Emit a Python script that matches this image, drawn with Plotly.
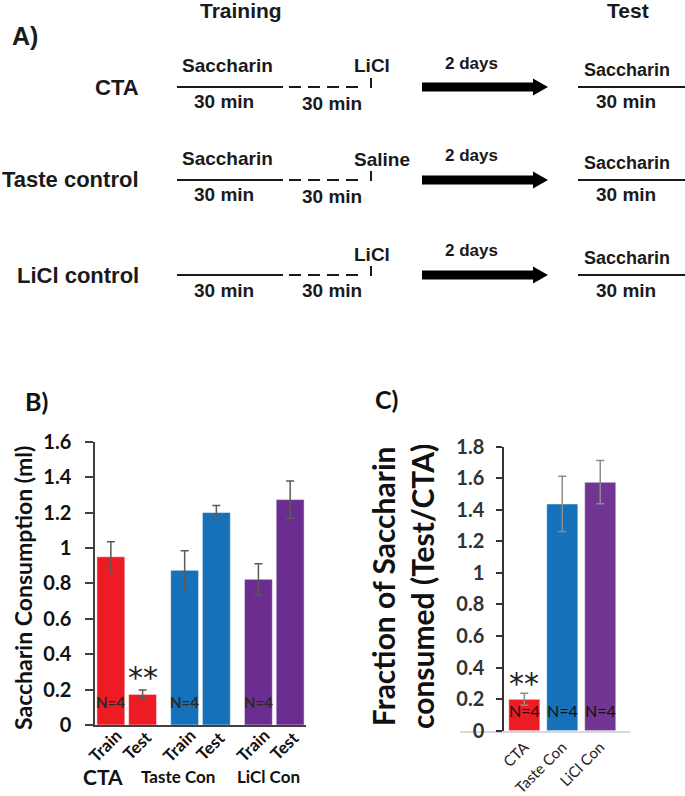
import plotly.graph_objects as go

W, H = 685, 796

# ---------------- data ----------------
groups = ["CTA", "Taste Con", "LiCl Con"]
phases = ["Train", "Test"]
train_ml = [0.95, 0.874, 0.823]
train_err = [0.085, 0.11, 0.088]
test_ml = [0.173, 1.2, 1.273]
test_err = [0.025, 0.04, 0.105]
fraction = [0.199, 1.437, 1.575]
fraction_err = [0.038, 0.175, 0.137]
n_labels = ["N=4", "N=4", "N=4"]
bar_colors = ["#ED1C24", "#1572BA", "#6C2D90"]
frac_colors = ["#ED1C24", "#1572BA", "#733594"]

# schematic (panel A) text
rows = ["CTA", "Taste control", "LiCl control"]
pre_labels = ["Saccharin", "Saccharin", ""]
injections = ["LiCl", "Saline", "LiCl"]
interval = "2 days"
duration = "30 min"
test_drink = "Saccharin"

FONT_A = "Liberation Sans, Arial, sans-serif"
FONT_B = "Lato, Open Sans, sans-serif"
TXT = "#1a1a1a"


def px(x):
    return x / W


def py(y):
    return 1 - y / H


fig = go.Figure()

# ---------------- panel B ----------------
fig.add_trace(go.Bar(
    x=groups, y=train_ml, name="Train",
    marker=dict(color=bar_colors, line=dict(color="rgba(255,255,255,0.5)", width=1)),
    error_y=dict(type="data", array=train_err, color="#5a5a5a", thickness=1.5, width=4),
    xaxis="x", yaxis="y", showlegend=False,
))
fig.add_trace(go.Bar(
    x=groups, y=test_ml, name="Test",
    marker=dict(color=bar_colors, line=dict(color="rgba(255,255,255,0.5)", width=1)),
    error_y=dict(type="data", array=test_err, color="#5a5a5a", thickness=1.5, width=4),
    xaxis="x", yaxis="y", showlegend=False,
))

# ---------------- panel C ----------------
fig.add_trace(go.Bar(
    x=groups, y=fraction, width=0.82,
    marker=dict(color=frac_colors, line=dict(color="rgba(255,255,255,0.5)", width=1)),
    error_y=dict(type="data", array=fraction_err, color="#8c8c8c", thickness=1.5, width=4),
    xaxis="x2", yaxis="y2", showlegend=False,
))

annotations = []
shapes = []

# B annotations: phase tick labels, N labels, stars, group labels
slot = 0.43
for i, g in enumerate(groups):
    for j, ph in enumerate(phases):
        xpos = i + (j - 0.5) * slot
        annotations.append(dict(
            x=xpos, y=0, xref="x", yref="y", text=ph, textangle=-45,
            showarrow=False, xanchor="center", yanchor="middle",
            xshift=-6, yshift=-20,
            font=dict(family=FONT_B, size=17, color="#111", weight="bold")))
    annotations.append(dict(
        x=i - slot / 2, y=0.13, xref="x", yref="y", text=n_labels[i],
        showarrow=False, font=dict(family=FONT_B, size=15, color="#2a2a2a", weight="bold")))
group_shift = [-24, -23, -6]
group_size = [21, 17, 17]
for i, g in enumerate(groups):
    annotations.append(dict(
        x=i, y=py(776), xref="x", yref="paper", text=g, showarrow=False,
        xanchor="center", yanchor="middle", xshift=group_shift[i],
        font=dict(family=FONT_B, size=group_size[i], color="#111", weight="bold")))
annotations.append(dict(
    x=slot / 2, y=0.27, xref="x", yref="y", text="**", showarrow=False,
    font=dict(family="DejaVu Sans, sans-serif", size=30, color="#222")))

# C annotations
for i, g in enumerate(groups):
    annotations.append(dict(
        x=i, y=0.13, xref="x2", yref="y2", text=n_labels[i], showarrow=False,
        font=dict(family=FONT_B, size=16, color="#111")))
annotations.append(dict(
    x=0, y=0.30, xref="x2", yref="y2", text="**", showarrow=False,
    font=dict(family="DejaVu Sans, sans-serif", size=30, color="#222")))

# axis titles
annotations.append(dict(
    x=px(23), y=py(588), xref="paper", yref="paper", text="Saccharin Consumption (ml)",
    textangle=-90, showarrow=False, xanchor="center", yanchor="middle",
    font=dict(family=FONT_B, size=23, color="#111", weight="bold")))
annotations.append(dict(
    x=px(402), y=py(587), xref="paper", yref="paper",
    text="Fraction of Saccharin<br>consumed (Test/CTA)",
    textangle=-90, showarrow=False, xanchor="center", yanchor="middle",
    font=dict(family=FONT_B, size=30, color="#111", weight="bold")))

# panel letters
annotations.append(dict(x=px(23), y=py(401), xref="paper", yref="paper", text="B)",
                        showarrow=False, font=dict(family=FONT_B, size=25, color="#111", weight="bold")))
annotations.append(dict(x=px(387), y=py(399), xref="paper", yref="paper", text="C)",
                        showarrow=False, font=dict(family=FONT_B, size=25, color="#111", weight="bold")))

# ---------------- panel A (schematic) ----------------
def txt(x, y, s, size, anchor="center", weight="bold"):
    annotations.append(dict(x=px(x), y=py(y), xref="paper", yref="paper", text=s,
                            showarrow=False, xanchor=anchor, yanchor="middle",
                            font=dict(family=FONT_A, size=size, color=TXT, weight=weight)))


def seg(x0, y0, x1, y1, width=2, dash="solid"):
    shapes.append(dict(type="line", xref="paper", yref="paper",
                       x0=px(x0), y0=py(y0), x1=px(x1), y1=py(y1),
                       line=dict(color=TXT, width=width, dash=dash)))


txt(25, 36, "A)", 25)
txt(241, 11, "Training", 21)
txt(628, 11, "Test", 21)

row_y = [87, 180, 275]
for r, yl in enumerate(row_y):
    txt(141, yl, rows[r], 22, anchor="right")
    if pre_labels[r]:
        txt(227, yl - 22, pre_labels[r], 19)
    seg(177, yl, 283, yl, 2)
    seg(289, yl, 365, yl, 2, dash="12px,7px")
    seg(371, yl - 9, 371, yl + 1, 2)
    txt(352, yl - 21, injections[r], 19, anchor="left")
    txt(224, yl + 15, duration, 19)
    txt(332, yl + 16, duration, 19)
    txt(471, yl - 24, interval, 17)
    # arrow
    shapes.append(dict(type="path", xref="paper", yref="paper",
                       path=(f"M {px(422)},{py(yl-4.5)} L {px(533)},{py(yl-4.5)} "
                             f"L {px(533)},{py(yl-8.5)} L {px(548)},{py(yl)} "
                             f"L {px(533)},{py(yl+8.5)} L {px(533)},{py(yl+4.5)} "
                             f"L {px(422)},{py(yl+4.5)} Z"),
                       fillcolor="#000", line=dict(width=0)))
    txt(627, yl - 17, test_drink, 18)
    seg(578, yl, 685, yl, 2)
    txt(626, yl + 15, duration, 19)

fig.update_layout(
    width=W, height=H,
    margin=dict(l=0, r=0, t=0, b=0, autoexpand=False),
    paper_bgcolor="white", plot_bgcolor="rgba(0,0,0,0)",
    barmode="group", bargap=0.14, bargroupgap=0.12,
    showlegend=False,
    xaxis=dict(domain=[px(95), px(306)], range=[-0.43, 2.43], type="category",
               showticklabels=False, showline=True, linecolor="#404040", linewidth=1.5,
               ticks="", showgrid=False, zeroline=False, anchor="y", fixedrange=True),
    yaxis=dict(domain=[py(725), py(441.7)], range=[0, 1.6], dtick=0.2, tick0=0,
               showline=True, linecolor="#404040", linewidth=1.5,
               ticks="outside", ticklen=8, tickcolor="#404040", tickwidth=1.5,
               ticklabelstandoff=10,
               showgrid=False, zeroline=False, anchor="x",
               tickfont=dict(family=FONT_B, size=20, color="#111", weight="bold"),
               fixedrange=True),
    xaxis2=dict(domain=[px(460), px(630)], range=[-1.694, 2.784], type="category",
                showline=True, linecolor="#d9d9d9", linewidth=1.5, ticks="",
                tickangle=-45, showgrid=False, zeroline=False, anchor="y2",
                tickfont=dict(family=FONT_B, size=15, color="#222"), fixedrange=True),
    yaxis2=dict(domain=[py(730.7), py(446.7)], range=[0, 1.8], dtick=0.2, tick0=0,
                anchor="free", position=px(503),
                showline=True, linecolor="#333", linewidth=1.5,
                ticks="outside", ticklen=6, tickcolor="#333", tickwidth=1.5,
                ticklabelstandoff=8,
                showgrid=False, zeroline=False,
                tickfont=dict(family=FONT_B, size=20, color="#333", weight="bold"),
                fixedrange=True),
    annotations=annotations,
    shapes=shapes,
)

fig.write_html("out.html", config={"displayModeBar": False},
               post_script="document.body.style.margin='0';document.body.style.overflow='hidden';")
